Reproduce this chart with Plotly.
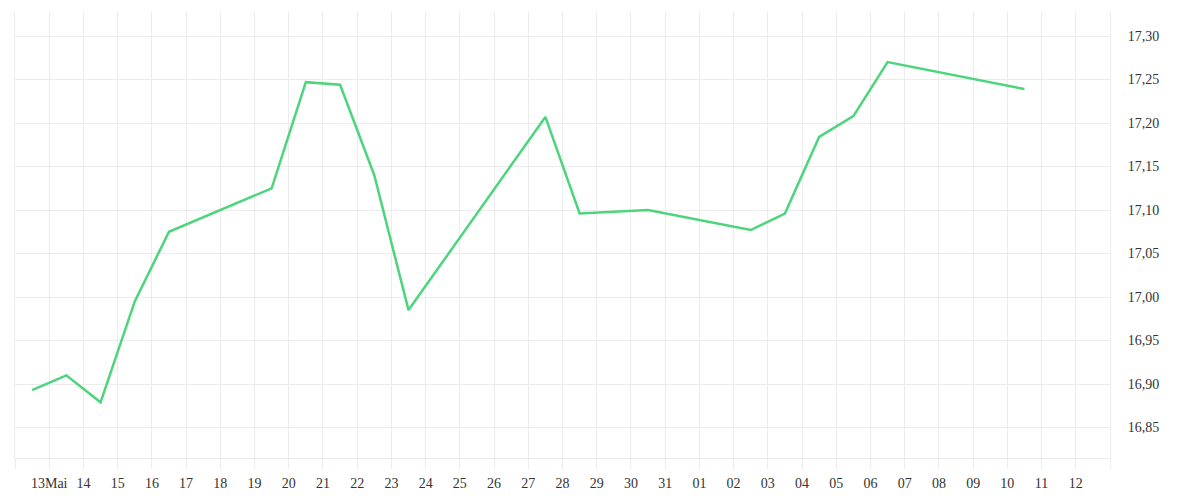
import plotly.graph_objects as go
import pandas as pd

# Data (daily values, plotted at mid-day)
dates = ["2024-05-12 12:00", "2024-05-13 12:00", "2024-05-14 12:00", "2024-05-15 12:00",
         "2024-05-16 12:00", "2024-05-19 12:00", "2024-05-20 12:00", "2024-05-21 12:00",
         "2024-05-22 12:00", "2024-05-23 12:00", "2024-05-27 12:00", "2024-05-28 12:00",
         "2024-05-30 12:00", "2024-06-02 12:00", "2024-06-03 12:00", "2024-06-04 12:00",
         "2024-06-05 12:00", "2024-06-06 12:00", "2024-06-10 12:00"]
values = [16.893, 16.910, 16.879, 16.995, 17.075, 17.125, 17.247, 17.244,
          17.140, 16.985, 17.207, 17.096, 17.100, 17.077, 17.096, 17.184,
          17.208, 17.270, 17.239]

tick_days = pd.date_range("2024-05-12", "2024-06-13", freq="D")
tick_text = []
for d in tick_days:
    if d == pd.Timestamp("2024-05-12") or d == pd.Timestamp("2024-06-13"):
        tick_text.append("")
    elif d == pd.Timestamp("2024-05-13"):
        tick_text.append("13Mai")
    else:
        tick_text.append(d.strftime("%d"))

y_ticks = [16.85, 16.90, 16.95, 17.00, 17.05, 17.10, 17.15, 17.20, 17.25, 17.30]

grid = "#ececec"
font = dict(family="Liberation Serif, Times New Roman, serif", size=14, color="#333333")

fig = go.Figure()
fig.add_trace(go.Scatter(x=dates, y=values, mode="lines",
                         line=dict(color="#4cd57c", width=2.5), hoverinfo="skip"))

fig.update_layout(
    width=1200, height=500,
    margin=dict(l=7, r=98, t=4, b=50),
    paper_bgcolor="white", plot_bgcolor="white",
    showlegend=False,
    separators=",.",
    font=font,
    xaxis=dict(
        type="date",
        range=["2024-05-12", "2024-06-13"],
        tickvals=list(tick_days), ticktext=tick_text,
        showgrid=True, gridcolor=grid, gridwidth=1,
        ticks="outside", ticklen=10, tickcolor=grid,
        ticklabelstandoff=2,
        showline=True, linecolor=grid, linewidth=1,
        zeroline=False, tickfont=font, automargin=False,
    ),
    yaxis=dict(
        side="right",
        range=[16.815, 17.3276],
        tickvals=y_ticks, tickformat=".2f",
        showgrid=True, gridcolor=grid, gridwidth=1,
        ticks="outside", ticklen=14, tickcolor="rgba(0,0,0,0)",
        showline=True, linecolor=grid, linewidth=1, mirror=True,
        zeroline=False, tickfont=font, automargin=False,
    ),
)

fig.write_html("out.html")
